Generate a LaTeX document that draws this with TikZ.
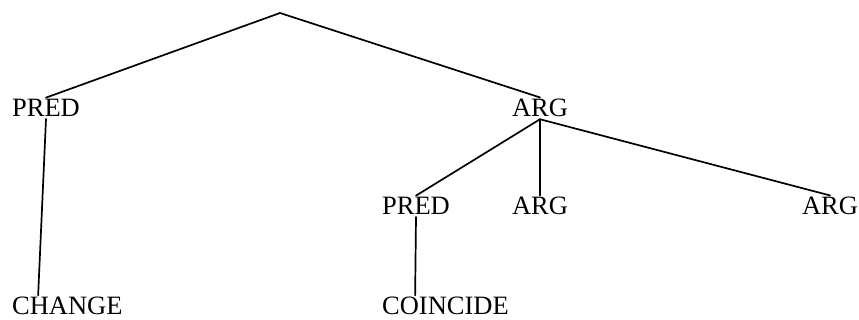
\documentclass[tikz,border=0pt]{standalone}
\usepackage{fontspec}
\setmainfont{Liberation Serif}
\usetikzlibrary{positioning}

\begin{document}
\begin{tikzpicture}[
    x=1pt, y=1pt,
    cat/.style={inner sep=2pt, outer sep=0pt, font=\fontsize{26.5}{30}\selectfont},
    branch/.style={line width=1.7pt, line cap=round}
]
\useasboundingbox (0,0) rectangle (859,320);
\coordinate (root) at (280,307);
\node[cat, anchor=base] (pred1) at (46,203) {PRED};
\node[cat, anchor=base] (arg1) at (540,203) {ARG};
\node[cat, below=98pt of arg1.base, anchor=base] (arg2) {ARG};
\node[cat, left=124pt of arg2.base, anchor=base] (pred2) {PRED};
\node[cat, right=290pt of arg2.base, anchor=base] (arg3) {ARG};
\node[cat, below=198pt of pred1.base west, anchor=base west] (change) {CHANGE};
\node[cat, below=100pt of pred2.base west, anchor=base west] (coincide) {COINCIDE};
% top level
\draw[branch] (root) -- (pred1.north);
\draw[branch] (root) -- (arg1.north);
\draw[branch] (pred1.south) -- ([xshift=28pt]change.north west);
% under ARG
\draw[branch] (arg1.south) -- (pred2.north);
\draw[branch] (arg1.south) -- (arg2.north);
\draw[branch] (arg1.south) -- (arg3.north);
\draw[branch] (pred2.south) -- ([xshift=35pt]coincide.north west);
\end{tikzpicture}
\end{document}
